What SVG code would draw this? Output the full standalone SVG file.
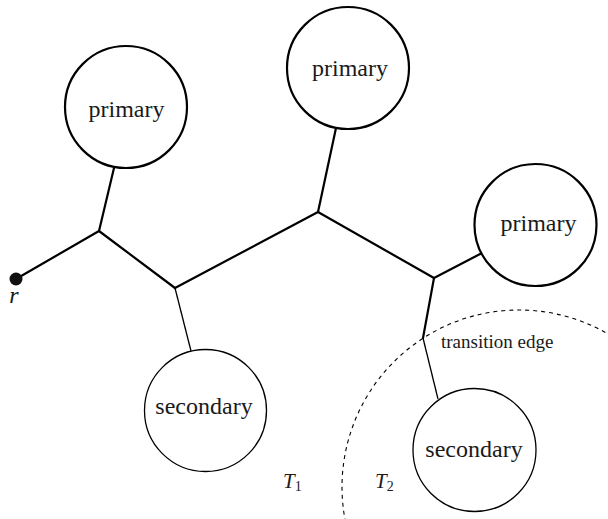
<svg xmlns="http://www.w3.org/2000/svg" width="608" height="519" viewBox="0 0 608 519">
<style>
.bg{fill:#fff}
.thick{stroke:#000;stroke-width:2.2;fill:none;stroke-linecap:round}
.thin{stroke:#000;stroke-width:1.3;fill:none}
.prim{fill:#fff;stroke:#000;stroke-width:2.2}
.sec{fill:#fff;stroke:#000;stroke-width:1.3}
.lbl{font-family:"Liberation Serif","Times New Roman",serif;font-size:24px;fill:#1a1a1a;text-anchor:middle}
.it{font-family:"Liberation Serif","Times New Roman",serif;font-style:italic;fill:#1a1a1a}
.small{font-family:"Liberation Serif","Times New Roman",serif;font-size:19px;fill:#1a1a1a}
.dash{fill:none;stroke:#000;stroke-width:1.1;stroke-dasharray:4 4}
</style>
<rect class="bg" x="0" y="0" width="608" height="519"/>
<circle id="region-boundary" class="dash" cx="519" cy="487" r="177"/>
<g id="connectors">
<line class="thick" x1="16" y1="279" x2="99" y2="231"/>
<line class="thick" x1="99" y1="231" x2="114" y2="168"/>
<line class="thick" x1="99" y1="231" x2="175" y2="288"/>
<line class="thin" x1="175" y1="288" x2="191" y2="351"/>
<line class="thick" x1="175" y1="288" x2="318" y2="212"/>
<line class="thick" x1="318" y1="212" x2="336" y2="128"/>
<line class="thick" x1="318" y1="212" x2="434" y2="278"/>
<line class="thick" x1="434" y1="278" x2="482" y2="253"/>
<line class="thick" x1="434" y1="278" x2="423" y2="338"/>
<line class="thin" x1="423" y1="338" x2="438" y2="399"/>
</g>
<g id="root">
<circle cx="16" cy="279" r="6.5" fill="#111"/>
<text class="it" x="14" y="303" font-size="24" text-anchor="middle">r</text>
</g>
<g id="primary1">
<circle class="prim" cx="126" cy="107" r="61"/>
<text class="lbl" x="126.5" y="117">primary</text>
</g>
<g id="primary2">
<circle class="prim" cx="348" cy="68" r="61"/>
<text class="lbl" x="350" y="76">primary</text>
</g>
<g id="primary3">
<circle class="prim" cx="535.5" cy="225" r="61"/>
<text class="lbl" x="538.5" y="231">primary</text>
</g>
<g id="secondary1">
<circle class="sec" cx="205.5" cy="410.5" r="61"/>
<text class="lbl" x="204" y="414">secondary</text>
</g>
<g id="secondary2">
<circle class="sec" cx="474.5" cy="450" r="61.5"/>
<text class="lbl" x="474" y="457">secondary</text>
</g>
<g id="labels">
<text class="small" x="441" y="348">transition edge</text>
<text class="it" x="283" y="488" font-size="21">T<tspan font-size="14" font-style="normal" dy="3">1</tspan></text>
<text class="it" x="375" y="488" font-size="21">T<tspan font-size="14" font-style="normal" dy="3">2</tspan></text>
</g>
</svg>
